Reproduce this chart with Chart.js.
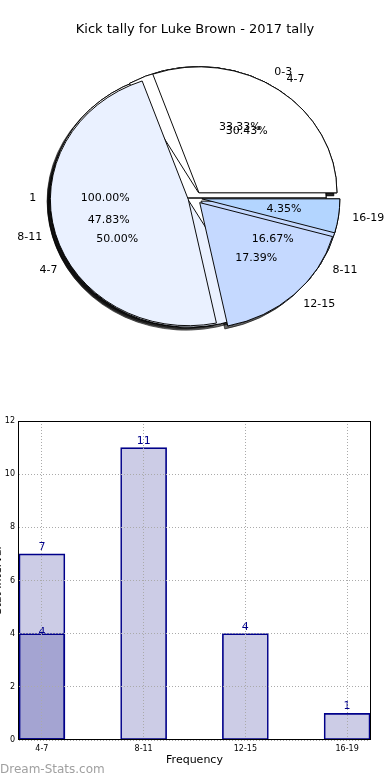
<!DOCTYPE html>
<html>
<head>
<meta charset="utf-8">
<script src="https://cdn.jsdelivr.net/npm/chart.js@4.4.0/dist/chart.umd.min.js"></script>
<style>
    body { margin: 0; background: #fff; width: 390px; height: 780px; overflow: hidden; position: relative; font-family: 'DejaVu Sans', sans-serif; }
    #chart-title { position: absolute; top: 21px; left: 0; width: 390px; text-align: center; font-size: 13px; color: #000; z-index: 2; }
    #pie-canvas { position: absolute; left: 0; top: 0; }
    #bar-canvas { position: absolute; left: 0; top: 400px; }
</style>
</head>
<body>
<div id="chart-title">Kick tally for Luke Brown - 2017 tally</div>
<canvas id="pie-canvas" width="390" height="396"></canvas>
<canvas id="bar-canvas" width="390" height="380"></canvas>
<script>
// Pie data (three pies drawn on top of each other)
const pieALabels = ['4-7', '8-11', '12-15', '16-19'];
const pieAValues = [7, 11, 4, 1];
const pieBLabels = ['0-3', '4-7', '8-11'];
const pieBValues = [2, 3, 1];
const pieCLabels = ['1'];
const pieCValues = [1];
const pieColors = ['#ffffff', '#eaf1ff', '#c5d9ff', '#b3d5ff'];

// Bar data
const barCategories = ['4-7', '8-11', '12-15', '16-19'];
const barValues = [7, 11, 4, 1];
const barOverlayValues = [4, null, null, null];
const yTickValues = [0, 2, 4, 6, 8, 10, 12];

const FONT = 'DejaVu Sans';
const PIE_RADIUS = 138;
const PIE_SQUASH = 126 / 138;
const EXPLODE = 0.05 * PIE_RADIUS;

Chart.defaults.font.family = FONT;

// matplotlib goes counter-clockwise from 3 o'clock, Chart.js clockwise
function reversed(arr) {
    return arr.slice().reverse();
}

function pieDataset(labels, values) {
    return {
        data: reversed(values),
        sliceLabels: reversed(labels),
        backgroundColor: reversed(pieColors.slice(0, values.length)),
        borderColor: '#000',
        borderWidth: 1
    };
}

const pieLayers = {
    id: 'pieLayers',
    afterUpdate(chart) {
        // every dataset is a full pie, not a ring; explode each slice
        chart.data.datasets.forEach((ds, i) => {
            chart.getDatasetMeta(i).data.forEach(arc => {
                const mid = (arc.startAngle + arc.endAngle) / 2;
                arc.innerRadius = 0;
                arc.outerRadius = PIE_RADIUS;
                arc.x += Math.cos(mid) * EXPLODE;
                arc.y += Math.sin(mid) * EXPLODE;
            });
        });
    },
    beforeDatasetsDraw(chart) {
        const ctx = chart.ctx;
        const cy = (chart.chartArea.top + chart.chartArea.bottom) / 2;
        ctx.save();
        ctx.translate(0, cy);
        ctx.scale(1, PIE_SQUASH);
        ctx.translate(0, -cy);
        // shadows under everything
        ctx.save();
        ctx.shadowColor = 'rgba(0, 0, 0, 0.6)';
        ctx.shadowOffsetX = -3;
        ctx.shadowOffsetY = 3;
        for (let i = chart.data.datasets.length - 1; i >= 0; i--) {
            chart.getDatasetMeta(i).data.forEach(arc => arc.draw(ctx));
        }
        ctx.restore();
    },
    afterDatasetsDraw(chart) {
        const ctx = chart.ctx;
        ctx.restore();
        const cy = (chart.chartArea.top + chart.chartArea.bottom) / 2;
        ctx.save();
        ctx.fillStyle = '#000';
        ctx.font = '11px ' + FONT;
        ctx.textBaseline = 'middle';
        chart.data.datasets.forEach((ds, i) => {
            const total = ds.data.reduce((a, b) => a + b, 0);
            chart.getDatasetMeta(i).data.forEach((arc, j) => {
                const mid = (arc.startAngle + arc.endAngle) / 2;
                const place = dist => ({
                    x: arc.x + Math.cos(mid) * dist * arc.outerRadius,
                    y: cy + (arc.y + Math.sin(mid) * dist * arc.outerRadius - cy) * PIE_SQUASH
                });
                const lp = place(1.1);
                ctx.textAlign = Math.cos(mid) > 0 ? 'left' : 'right';
                ctx.fillText(ds.sliceLabels[j], lp.x, lp.y);
                const pp = place(0.6);
                ctx.textAlign = 'center';
                ctx.fillText((ds.data[j] / total * 100).toFixed(2) + '%', pp.x, pp.y);
            });
        });
        ctx.restore();
    }
};

new Chart(document.getElementById('pie-canvas'), {
    type: 'pie',
    data: {
        datasets: [
            pieDataset(pieALabels, pieAValues),
            pieDataset(pieBLabels, pieBValues),
            pieDataset(pieCLabels, pieCValues)
        ]
    },
    options: {
        responsive: false,
        animation: false,
        rotation: 90,
        radius: PIE_RADIUS,
        layout: { padding: 0 },
        plugins: {
            legend: { display: false },
            tooltip: { enabled: false }
        }
    },
    plugins: [pieLayers]
});

const barDecor = {
    id: 'barDecor',
    afterDatasetsDraw(chart) {
        const ctx = chart.ctx;
        ctx.save();
        ctx.fillStyle = '#00008b';
        ctx.font = '11px ' + FONT;
        ctx.textAlign = 'center';
        ctx.textBaseline = 'alphabetic';
        chart.data.datasets.forEach((ds, i) => {
            chart.getDatasetMeta(i).data.forEach((bar, j) => {
                ctx.fillText(String(ds.data[j].y), bar.x, bar.y - ds.labelGap);
            });
        });
        ctx.restore();
    },
    afterDraw(chart) {
        const ctx = chart.ctx;
        const a = chart.chartArea;
        ctx.save();
        ctx.strokeStyle = '#000';
        ctx.lineWidth = 1;
        ctx.strokeRect(Math.round(a.left) - 0.5, Math.round(a.top) + 0.5,
            Math.round(a.right - a.left) + 1, Math.round(a.bottom - a.top) - 1);

        ctx.fillStyle = '#000';
        ctx.font = '11px ' + FONT;
        ctx.textAlign = 'center';
        ctx.textBaseline = 'middle';
        ctx.fillText('Frequency', (a.left + a.right) / 2, 360);

        ctx.save();
        ctx.translate(-2, (a.top + a.bottom) / 2);
        ctx.rotate(-Math.PI / 2);
        ctx.fillText('Stat Interval', 0, 0);
        ctx.restore();

        ctx.fillStyle = '#a0a0a0';
        ctx.font = '12px ' + FONT;
        ctx.textAlign = 'left';
        ctx.fillText('Dream-Stats.com', 0, 370);
        ctx.restore();
    }
};

function toPoints(values) {
    return values.map((v, i) => ({ x: i, y: v })).filter(p => p.y !== null);
}

new Chart(document.getElementById('bar-canvas'), {
    type: 'bar',
    data: {
        datasets: [
            {
                data: toPoints(barOverlayValues),
                order: 0,
                labelGap: -1
            },
            {
                data: toPoints(barValues),
                order: 1,
                labelGap: 4
            }
        ].map(ds => Object.assign(ds, {
            backgroundColor: 'rgba(0, 0, 128, 0.2)',
            borderColor: '#00008b',
            borderWidth: 1,
            borderSkipped: false,
            barThickness: 46,
            grouped: false
        }))
    },
    options: {
        responsive: false,
        animation: false,
        layout: { padding: { top: 21, right: 20, left: 0, bottom: 0 } },
        plugins: {
            legend: { display: false },
            tooltip: { enabled: false }
        },
        scales: {
            x: {
                type: 'linear',
                min: -0.225,
                max: 3.225,
                offset: false,
                afterBuildTicks: scale => { scale.ticks = barCategories.map((c, i) => ({ value: i })); },
                afterFit: scale => { scale.height = 40; },
                ticks: {
                    callback: v => barCategories[v],
                    font: { size: 8 },
                    color: '#000',
                    padding: 4,
                    maxRotation: 0,
                    autoSkip: false
                },
                grid: { color: '#aaaaaa', drawTicks: false, offset: false, z: 1 },
                border: { display: false, dash: [1, 2] }
            },
            y: {
                min: 0,
                max: 12,
                afterBuildTicks: scale => { scale.ticks = yTickValues.map(v => ({ value: v })); },
                afterFit: scale => { scale.width = 19; },
                ticks: {
                    font: { size: 8 },
                    color: '#000',
                    padding: 4
                },
                grid: { color: '#aaaaaa', drawTicks: false, z: 1 },
                border: { display: false, dash: [1, 2] }
            }
        }
    },
    plugins: [barDecor]
});
</script>
</body>
</html>
